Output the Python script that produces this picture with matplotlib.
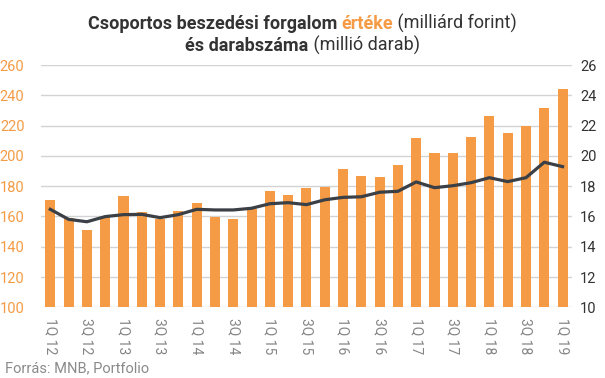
import matplotlib
matplotlib.use("Agg")
import matplotlib.pyplot as plt
import numpy as np

plt.rcParams['font.family'] = ['Roboto', 'DejaVu Sans']

quarters = ['1Q 12', '2Q 12', '3Q 12', '4Q 12', '1Q 13', '2Q 13', '3Q 13', '4Q 13',
            '1Q 14', '2Q 14', '3Q 14', '4Q 14', '1Q 15', '2Q 15', '3Q 15', '4Q 15',
            '1Q 16', '2Q 16', '3Q 16', '4Q 16', '1Q 17', '2Q 17', '3Q 17', '4Q 17',
            '1Q 18', '2Q 18', '3Q 18', '4Q 18', '1Q 19']
value_bn = [171, 159, 151, 159.5, 173.5, 163, 158, 163.6, 169, 159.6, 158.3, 165,
            176.8, 174.2, 178.8, 179.5, 191.3, 186.7, 186, 194, 211.8, 201.9, 202,
            212.5, 226.4, 215.2, 219.8, 231.6, 244.1]
count_mn = [16.47, 15.81, 15.65, 15.99, 16.12, 16.14, 15.92, 16.12, 16.47, 16.43,
            16.43, 16.54, 16.84, 16.91, 16.78, 17.1, 17.26, 17.3, 17.6, 17.66, 18.28,
            17.9, 18.03, 18.23, 18.56, 18.3, 18.56, 19.58, 19.29]
left_ticks = [100, 120, 140, 160, 180, 200, 220, 240, 260]
right_ticks = [10, 12, 14, 16, 18, 20, 22, 24, 26]

ORANGE = '#F59B45'
DARK = '#3B3F46'
GRID = '#D3D3D3'

fig = plt.figure(figsize=(6.05, 3.78), dpi=100)
ax = fig.add_axes([0.068, 0.187, 0.877, 0.641])
x = np.arange(len(quarters))
ax.bar(x, value_bn, width=0.55, color=ORANGE, zorder=2)
ax.set_ylim(100, 260)
ax.set_xlim(-0.5, len(quarters) - 0.5)
ax.set_yticks(left_ticks)
ax.yaxis.grid(True, color=GRID, linewidth=1.0, zorder=0)
ax.set_axisbelow(True)
for s in ax.spines.values():
    s.set_visible(False)
ax.tick_params(axis='y', length=0, labelsize=10.5, labelcolor=ORANGE, pad=12)
ax.set_xticks(x[::2])
ax.set_xticklabels(quarters[::2], rotation=270, fontsize=10, color='#858585')
ax.tick_params(axis='x', length=0, pad=8)

ax2 = ax.twinx()
ax2.plot(x, count_mn, color=DARK, linewidth=2.3, zorder=3)
ax2.set_ylim(10, 26)
ax2.set_yticks(right_ticks)
for s in ax2.spines.values():
    s.set_visible(False)
ax2.tick_params(axis='y', length=0, labelsize=10.5, labelcolor='#333333', pad=6)

# Title with mixed styles
fig.canvas.draw()
renderer = fig.canvas.get_renderer()

def line(parts, y, cx):
    texts = []
    for txt, color, weight in parts:
        t = fig.text(0, y, txt, color=color, fontweight=weight, fontsize=13,
                     ha='left', va='baseline')
        texts.append(t)
    widths = [t.get_window_extent(renderer).width for t in texts]
    total = sum(widths)
    xpos = cx * fig.bbox.width - total / 2
    for t, w in zip(texts, widths):
        t.set_x(xpos / fig.bbox.width)
        xpos += w

line([('Csoportos beszedési forgalom ', '#333333', 'bold'),
      ('értéke', ORANGE, 'bold'),
      (' (milliárd forint)', '#333333', 'normal')], 1 - 29 / 378, 0.5)
line([('és darabszáma', '#333333', 'bold'),
      (' (millió darab)', '#333333', 'normal')], 1 - 51 / 378, 0.5)

fig.text(5 / 605, 1 - 372 / 378, 'Forrás: MNB, Portfolio', color='#8A8A8A', fontsize=10.5,
         ha='left', va='baseline')

fig.savefig('out.png', dpi=100)
